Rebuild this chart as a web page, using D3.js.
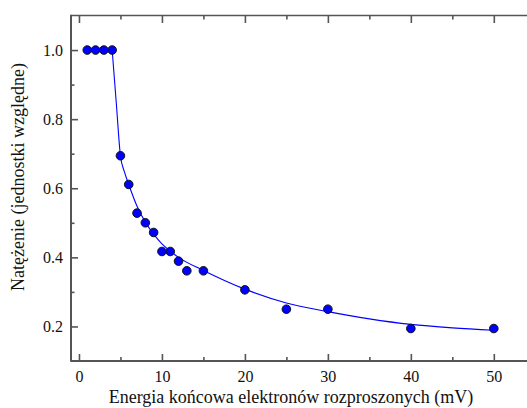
<!DOCTYPE html>
<html>
<head>
<meta charset="utf-8">
<script src="https://cdn.jsdelivr.net/npm/d3@7"></script>
<style>
  html, body { margin: 0; padding: 0; background: #fff; }
  svg { display: block; }
</style>
</head>
<body>
<svg id="chart" width="527" height="408"></svg>
<script>
// Measured points: final electron energy (mV) vs relative intensity
const energy = [1, 2, 3, 4, 5, 6, 7, 8, 9, 10, 11, 12, 13, 15, 20, 25, 30, 40, 50];
const intensity = [1.0, 1.0, 1.0, 1.0, 0.694, 0.611, 0.528, 0.5, 0.472, 0.417, 0.417, 0.389, 0.361, 0.361, 0.306, 0.25, 0.25, 0.194, 0.194];

// Fitted curve, sampled along its course
const fitEnergy = [4, 4.5, 5, 5.5, 6, 7, 8, 9, 10, 11, 12, 15, 20, 25, 30, 35, 40, 45, 50];
const fitIntensity = [1.0, 0.846, 0.694, 0.646, 0.611, 0.548, 0.502, 0.467, 0.439, 0.418, 0.400, 0.362, 0.308, 0.268, 0.243, 0.222, 0.206, 0.196, 0.189];

// Axis ticks
const xMajor = [0, 10, 20, 30, 40, 50];
const xMinor = [5, 15, 25, 35, 45];
const yMajor = [0.2, 0.4, 0.6, 0.8, 1.0];
const yMinor = [0.3, 0.5, 0.7, 0.9];

const xTitle = "Energia końcowa elektronów rozproszonych (mV)";
const yTitle = "Natężenie (jednostki względne)";

const serif = "'Liberation Serif', 'DejaVu Serif', serif";

const svg = d3.select("#chart");
const plotLeft = 71, plotRight = 527, plotTop = 15.5, plotBottom = 361;

const x = d3.scaleLinear().domain([-0.96, 54]).range([plotLeft, plotRight]);
const y = d3.scaleLinear().domain([0.1, 1.1]).range([plotBottom, plotTop]);

const axisColor = "#555";

// Bottom axis: inward ticks with labels
svg.append("g").attr("transform", `translate(0,${plotBottom})`)
  .call(d3.axisBottom(x).tickValues(xMajor).tickSize(-7).tickPadding(10).tickFormat(d3.format("d")));
svg.append("g").attr("transform", `translate(0,${plotBottom})`)
  .call(d3.axisBottom(x).tickValues(xMinor).tickSize(-4).tickFormat(""));

// Top axis: inward ticks, no labels
svg.append("g").attr("transform", `translate(0,${plotTop})`)
  .call(d3.axisTop(x).tickValues(xMajor).tickSize(-7.5).tickFormat(""));
svg.append("g").attr("transform", `translate(0,${plotTop})`)
  .call(d3.axisTop(x).tickValues(xMinor).tickSize(-4).tickFormat(""));

// Left axis
svg.append("g").attr("transform", `translate(${plotLeft},0)`)
  .call(d3.axisLeft(y).tickValues(yMajor).tickSize(-7).tickPadding(8).tickFormat(d3.format(".1f")));
svg.append("g").attr("transform", `translate(${plotLeft},0)`)
  .call(d3.axisLeft(y).tickValues(yMinor).tickSize(-3.5).tickFormat(""));

svg.selectAll(".domain").remove();
svg.selectAll("g").attr("font-family", serif);
svg.selectAll(".tick line").attr("stroke", axisColor).attr("stroke-width", 1.6);
svg.selectAll(".tick text").attr("font-size", 16).attr("fill", "#111")
  .attr("font-family", serif);

// Frame lines (no right-hand axis)
svg.append("line").attr("x1", plotLeft).attr("x2", plotLeft).attr("y1", plotTop - 0.8).attr("y2", plotBottom + 0.8)
  .attr("stroke", axisColor).attr("stroke-width", 2);
svg.append("line").attr("x1", plotLeft).attr("x2", plotRight).attr("y1", plotBottom).attr("y2", plotBottom)
  .attr("stroke", axisColor).attr("stroke-width", 2);
svg.append("line").attr("x1", plotLeft).attr("x2", plotRight).attr("y1", plotTop).attr("y2", plotTop)
  .attr("stroke", axisColor).attr("stroke-width", 1.6);

// Fitted curve
const fit = fitEnergy.map((e, i) => [e, fitIntensity[i]]);
svg.append("path")
  .datum(fit)
  .attr("fill", "none")
  .attr("stroke", "#0000ff")
  .attr("stroke-width", 1.1)
  .attr("d", d3.line().x(d => x(d[0])).y(d => y(d[1])).curve(d3.curveMonotoneX));

// Measured points
svg.append("g").selectAll("circle")
  .data(energy.map((e, i) => [e, intensity[i]]))
  .join("circle")
  .attr("cx", d => x(d[0]))
  .attr("cy", d => y(d[1]))
  .attr("r", 4.3)
  .attr("fill", "#0000ff")
  .attr("stroke", "#111")
  .attr("stroke-width", 1);

// Axis titles
svg.append("text")
  .attr("x", 291).attr("y", 403)
  .attr("text-anchor", "middle")
  .attr("font-family", serif)
  .attr("font-size", 18)
  .attr("fill", "#111")
  .text(xTitle);

svg.append("text")
  .attr("transform", "translate(24,177) rotate(-90)")
  .attr("text-anchor", "middle")
  .attr("font-family", serif)
  .attr("font-size", 18)
  .attr("fill", "#111")
  .text(yTitle);
</script>
</body>
</html>
